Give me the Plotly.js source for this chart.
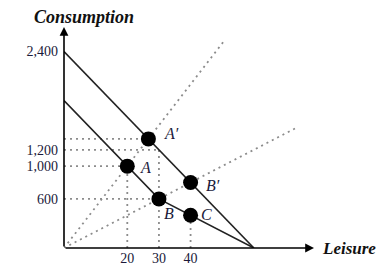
<!DOCTYPE html>
<html><head><meta charset="utf-8">
<script src="https://cdn.plot.ly/plotly-3.0.1.min.js"></script>
<style>html,body{margin:0;padding:0;background:#fff}</style>
</head><body><div id="chart" style="width:390px;height:274px"></div>
<script>
// Budget lines (leisure, consumption)
const topLineL = [0, 60];
const topLineC = [2400, 0];
const lowLineL = [0, 30, 60];
const lowLineC = [1800, 600, 0];
// Labelled points
const ptNames = ["A", "A\u2032", "B", "B\u2032", "C"];
const ptL = [20, 26.67, 30, 40, 40];
const ptC = [1000, 1333, 600, 800, 400];
// Rays from origin (end points)
const rayEndL = [51, 74];
const rayEndC = [2550, 1480];
// Tick labels
const xTicks = [20, 30, 40];
const yTicks = [600, 1000, 1200, 2400];
const yTickText = ["600", "1,000", "1,200", "2,400"];
// Axis extents
const xMax = 79, yMax = 2700;

const dotStyle = {color: "#8c8c8c", width: 1.8, dash: "2px,4px"};
const traces = [];
function seg(xs, ys, line) {
  traces.push({x: xs, y: ys, mode: "lines", line: line, hoverinfo: "skip", cliponaxis: false, showlegend: false});
}
// rays
for (let i = 0; i < rayEndL.length; i++) seg([0, rayEndL[i]], [0, rayEndC[i]], dotStyle);
// guide lines: horizontals to the y axis and verticals to the x axis
const iA = 0, iAp = 1, iB = 2, iC = 4;
seg([0, ptL[iAp]], [ptC[iAp], ptC[iAp]], dotStyle);
seg([0, ptL[iA]], [ptC[iA], ptC[iA]], dotStyle);
seg([0, ptL[iB]], [ptC[iB], ptC[iB]], dotStyle);
seg([ptL[iA], ptL[iA]], [0, ptC[iA]], dotStyle);
seg([ptL[iC], ptL[iC]], [0, ptC[iC]], dotStyle);
// 1200 guide meets the top budget line at L=30
const yT = yTicks[2];
const xAtT = topLineL[0] + (topLineC[0] - yT) / (topLineC[0] - topLineC[1]) * (topLineL[1] - topLineL[0]);
seg([0, xAtT], [yT, yT], dotStyle);
seg([xAtT, xAtT], [0, yT], dotStyle);
// budget lines
seg(topLineL, topLineC, {color: "#222", width: 1.6});
seg(lowLineL, lowLineC, {color: "#222", width: 1.6});
// points
traces.push({x: ptL, y: ptC, mode: "markers", marker: {color: "#000", size: 15}, hoverinfo: "skip", cliponaxis: false, showlegend: false});

const labelShift = [[18, -1], [23, 5], [10, -15], [22, -3], [16, 1]];
const font = "Liberation Serif, Times New Roman, serif";
const annotations = ptNames.map((n, i) => ({
  x: ptL[i], y: ptC[i], text: "<i>" + n + "</i>", showarrow: false,
  xanchor: "center", yanchor: "middle", xshift: labelShift[i][0], yshift: labelShift[i][1],
  font: {family: font, size: 16, color: "#1a1a3a"}
}));
// axis arrows
annotations.push({x: xMax, y: 0, ax: 0, ay: 0, axref: "x", ayref: "y", xref: "x", yref: "y",
  showarrow: true, arrowhead: 2, arrowsize: 1.1, arrowwidth: 1.6, arrowcolor: "#000", text: ""});
annotations.push({x: 0, y: yMax, ax: 0, ay: 0, axref: "x", ayref: "y", xref: "x", yref: "y",
  showarrow: true, arrowhead: 2, arrowsize: 1.1, arrowwidth: 1.6, arrowcolor: "#000", text: ""});
annotations.push({xref: "paper", yref: "paper", x: 0, y: 1, xanchor: "center", yanchor: "middle",
  xshift: 20, yshift: 10, showarrow: false, text: "<b><i>Consumption</i></b>",
  font: {family: font, size: 18, color: "#111"}});
annotations.push({xref: "paper", yref: "y", x: 1, y: 0, xanchor: "left", yanchor: "middle",
  xshift: 6, yshift: 0, showarrow: false, text: "<b><i>Leisure</i></b>",
  font: {family: font, size: 17, color: "#111"}});

const layout = {
  width: 390, height: 274,
  margin: {l: 64, r: 76, t: 27, b: 26},
  paper_bgcolor: "#fff", plot_bgcolor: "#fff",
  showlegend: false,
  xaxis: {range: [0, xMax], showgrid: false, zeroline: false, showline: false,
    tickvals: xTicks, ticktext: xTicks.map(String), ticks: "", ticklen: 0,
    tickfont: {family: font, size: 14, color: "#1a1a3a"}, fixedrange: true},
  yaxis: {range: [0, yMax], showgrid: false, zeroline: false, showline: false,
    tickvals: yTicks, ticktext: yTickText, ticks: "", ticklen: 0, ticklabelstandoff: 5,
    tickfont: {family: font, size: 14, color: "#1a1a3a"}, fixedrange: true},
  annotations: annotations
};
Plotly.newPlot("chart", traces, layout, {displayModeBar: false, staticPlot: true});
</script></body></html>
